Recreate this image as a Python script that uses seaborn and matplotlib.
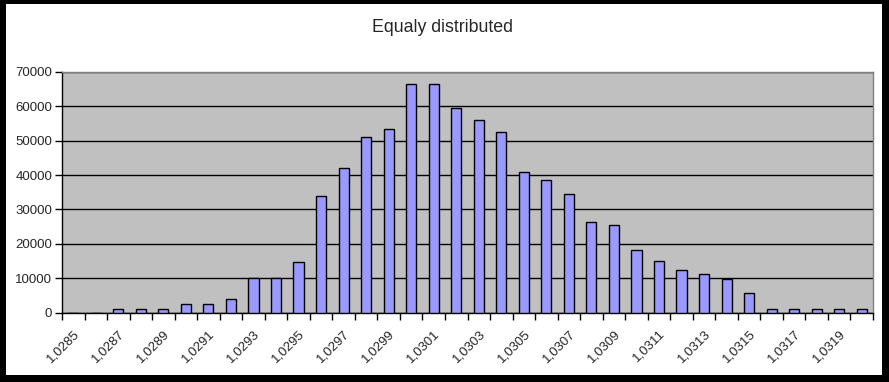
import matplotlib
matplotlib.use("Agg")
import matplotlib.pyplot as plt
from matplotlib.patches import Rectangle
from matplotlib.ticker import FixedLocator
from matplotlib.transforms import ScaledTranslation
import seaborn as sns
import pandas as pd

categories = ["1,0285", "1,0286", "1,0287", "1,0288", "1,0289", "1,0290",
              "1,0291", "1,0292", "1,0293", "1,0294", "1,0295", "1,0296",
              "1,0297", "1,0298", "1,0299", "1,0300", "1,0301", "1,0302",
              "1,0303", "1,0304", "1,0305", "1,0306", "1,0307", "1,0308",
              "1,0309", "1,0310", "1,0311", "1,0312", "1,0313", "1,0314",
              "1,0315", "1,0316", "1,0317", "1,0318", "1,0319", "1,0320"]
counts = [0, 0, 1000, 1000, 1000, 2500,
          2500, 3800, 10100, 10100, 14800, 33900,
          42200, 51000, 53300, 66400, 66400, 59400,
          55900, 52500, 41000, 38700, 34600, 26200,
          25600, 18300, 15100, 12500, 11300, 9800,
          5800, 1100, 1100, 1100, 1100, 1100]
yticks = [0, 10000, 20000, 30000, 40000, 50000, 60000, 70000]
title = "Equaly distributed"

sns.set_style("white")
plt.rcParams['font.family'] = ['Liberation Sans', 'DejaVu Sans']

df = pd.DataFrame({"cat": categories, "count": counts})

W, H = 889, 382
fig = plt.figure(figsize=(W / 100, H / 100), dpi=100)
fig.patch.set_facecolor("black")
fig.patches.append(Rectangle((6 / W, 7 / H), (882 - 6) / W, (378 - 7) / H,
                             transform=fig.transFigure, facecolor="white",
                             edgecolor="none", zorder=-10))

ax = fig.add_axes([62 / W, (H - 312.5) / H, (873 - 62) / W, (312.5 - 72) / H])
ax.set_facecolor("#C0C0C0")
sns.barplot(data=df, x="cat", y="count", ax=ax, color="#9999FF",
            edgecolor="black", linewidth=1.0, width=0.45, saturation=1, zorder=3)

ax.set_ylim(0, 70000)
ax.set_xlim(-0.5, len(categories) - 0.5)
ax.set_yticks(yticks)
ax.set_yticklabels([str(v) for v in yticks], fontsize=9.5)
ax.yaxis.grid(True, color="black", linewidth=1.0, zorder=1)
ax.set_axisbelow(True)

major = list(range(0, len(categories), 2))
ax.set_xticks(major)
ax.set_xticklabels([categories[i] for i in major], rotation=45, ha="right",
                   rotation_mode="anchor", fontsize=9.5)
offset = ScaledTranslation(-3 / 100, 0, fig.dpi_scale_trans)
for lbl in ax.get_xticklabels():
    lbl.set_transform(lbl.get_transform() + offset)
ax.xaxis.set_minor_locator(FixedLocator([i - 0.5 for i in range(len(categories) + 1)]))
ax.tick_params(axis="x", which="major", length=0, pad=11)
ax.tick_params(axis="x", which="minor", length=5, width=1, color="black", direction="out", bottom=True)
ax.tick_params(axis="y", length=5, width=1, color="black", direction="out", left=True, pad=2)

for s in ["left", "bottom"]:
    ax.spines[s].set_color("black")
    ax.spines[s].set_linewidth(1.0)
for s in ["top", "right"]:
    ax.spines[s].set_visible(True)
    ax.spines[s].set_color("#808080")
    ax.spines[s].set_linewidth(1.0)

ax.set_xlabel("")
ax.set_ylabel("")
fig.text(443 / W, 1 - 28 / H, title, ha="center", va="center", fontsize=12.8)

fig.savefig("out.png", dpi=100, facecolor=fig.get_facecolor())
